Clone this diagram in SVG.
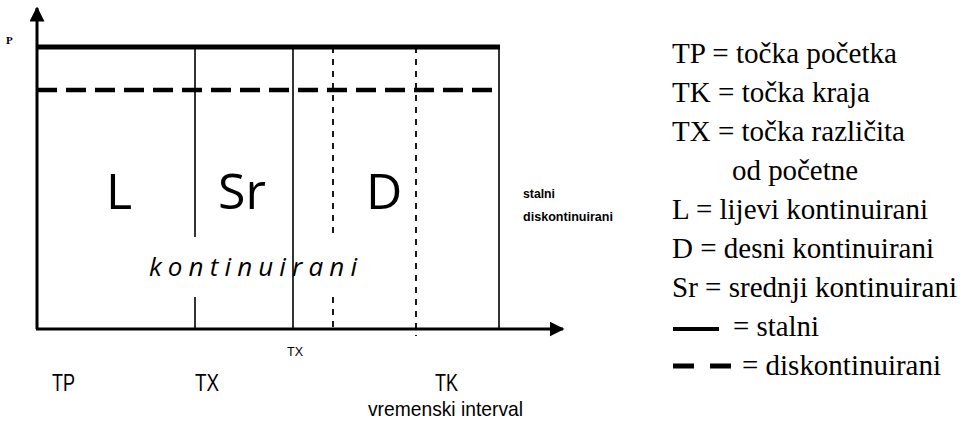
<svg xmlns="http://www.w3.org/2000/svg" width="967" height="427" viewBox="0 0 967 427">
<style>
.solid{stroke:#000;stroke-width:1.6;fill:none}
.dash{stroke:#000;stroke-width:1.8;stroke-dasharray:6,6;fill:none}
.axis{stroke:#000;stroke-width:3;fill:none}
.big{font-family:'Open Sans','Liberation Sans',sans-serif;font-size:50px;fill:#000}
.lbl{font-family:'Liberation Sans',Arial,sans-serif;fill:#000}
.leg{font-size:29px;fill:#000}
</style>
<defs>
<marker id="ah" viewBox="0 0 10 10" refX="9" refY="5" markerWidth="5" markerHeight="5" markerUnits="strokeWidth" orient="auto"><path d="M0,0 L10,5 L0,10 z" fill="#000"/></marker>
</defs>
<rect width="967" height="427" fill="#fff"/>
<g id="connectors">
<line class="axis" x1="37" y1="329" x2="37" y2="8" marker-end="url(#ah)"/>
<line class="axis" x1="36" y1="329" x2="563" y2="329" marker-end="url(#ah)"/>
<line x1="37" y1="47" x2="500" y2="47" stroke="#000" stroke-width="5"/>
<line x1="37" y1="90" x2="500" y2="90" stroke="#000" stroke-width="4.5" stroke-dasharray="20,9"/>
<line class="solid" x1="195" y1="47" x2="195" y2="237"/>
<line class="solid" x1="195" y1="297" x2="195" y2="329"/>
<line class="solid" x1="293" y1="47" x2="293" y2="329"/>
<line class="dash" x1="333" y1="47" x2="333" y2="237"/>
<line class="dash" x1="333" y1="297" x2="333" y2="329"/>
<line class="dash" x1="416" y1="47" x2="416" y2="336" stroke-width="2.2"/>
<line class="solid" x1="499" y1="47" x2="499" y2="329" stroke-width="2"/>
</g>
<g id="regions">
<text class="big" x="106" y="209">L</text>
<text class="big" x="218" y="209">Sr</text>
<text class="big" x="366" y="209">D</text>
<text x="149" y="276" font-family="'Open Sans','Liberation Sans',sans-serif" font-style="italic" font-size="26" textLength="208" lengthAdjust="spacing">kontinuirani</text>
</g>
<g id="side-labels">
<text class="lbl" x="523" y="198" font-size="13" font-weight="bold" textLength="32" lengthAdjust="spacingAndGlyphs">stalni</text>
<text class="lbl" x="523" y="221" font-size="13" font-weight="bold" textLength="90" lengthAdjust="spacingAndGlyphs">diskontinuirani</text>
<text x="6" y="44" font-family="Liberation Serif, serif" font-size="11" font-weight="bold">P</text>
</g>
<g id="axis-labels">
<text class="lbl" x="287" y="356" font-size="12" textLength="16" lengthAdjust="spacingAndGlyphs">TX</text>
<text class="lbl" x="52" y="391" font-size="24" textLength="23" lengthAdjust="spacingAndGlyphs">TP</text>
<text class="lbl" x="195" y="391" font-size="24" textLength="24" lengthAdjust="spacingAndGlyphs">TX</text>
<text class="lbl" x="435" y="391" font-size="24" textLength="23" lengthAdjust="spacingAndGlyphs">TK</text>
<text class="lbl" x="368" y="416" font-size="21" textLength="155" lengthAdjust="spacingAndGlyphs">vremenski interval</text>
</g>
<g id="legend" font-family="Liberation Serif, Times New Roman, serif">
<text class="leg" x="672" y="63" textLength="225" lengthAdjust="spacingAndGlyphs">TP = točka početka</text>
<text class="leg" x="672" y="102" textLength="198" lengthAdjust="spacingAndGlyphs">TK = točka kraja</text>
<text class="leg" x="672" y="141" textLength="233" lengthAdjust="spacingAndGlyphs">TX = točka različita</text>
<text class="leg" x="732" y="180" textLength="126" lengthAdjust="spacingAndGlyphs">od početne</text>
<text class="leg" x="672" y="219" textLength="256" lengthAdjust="spacingAndGlyphs">L = lijevi kontinuirani</text>
<text class="leg" x="672" y="258" textLength="262" lengthAdjust="spacingAndGlyphs">D = desni kontinuirani</text>
<text class="leg" x="672" y="297" textLength="285" lengthAdjust="spacingAndGlyphs">Sr = srednji kontinuirani</text>
<line x1="673" y1="329" x2="719" y2="329" stroke="#000" stroke-width="4"/>
<text class="leg" x="733" y="336" textLength="86" lengthAdjust="spacingAndGlyphs">= stalni</text>
<line x1="673" y1="366" x2="694" y2="366" stroke="#000" stroke-width="5"/>
<line x1="710" y1="366" x2="731" y2="366" stroke="#000" stroke-width="5"/>
<text class="leg" x="742" y="375" textLength="199" lengthAdjust="spacingAndGlyphs">= diskontinuirani</text>
</g>
</svg>
